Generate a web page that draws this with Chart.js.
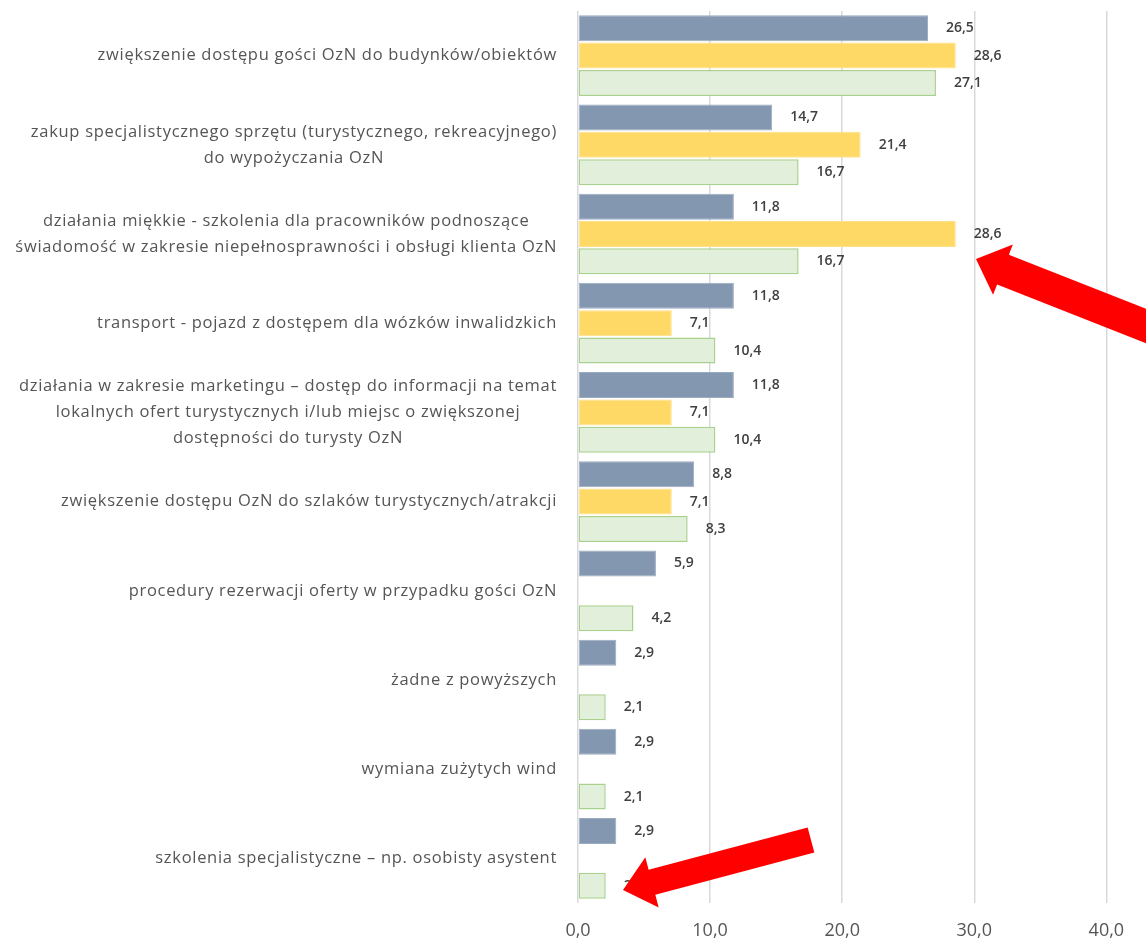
<!DOCTYPE html>
<html>
<head>
<meta charset="utf-8">
<script src="https://cdn.jsdelivr.net/npm/chart.js@4"></script>
<style>
  body { margin: 0; background: #fff; }
  #wrap { width: 1146px; height: 941px; }
</style>
</head>
<body>
<div id="wrap"><canvas id="barChart" width="1146" height="941"></canvas></div>
<script>
// Categories (multi-line labels as arrays)
const categories = [
    ["zwiększenie dostępu gości OzN do budynków/obiektów"],
    ["zakup specjalistycznego sprzętu (turystycznego, rekreacyjnego)", "do wypożyczania OzN"],
    ["działania miękkie - szkolenia dla pracowników podnoszące", "świadomość w zakresie niepełnosprawności i obsługi klienta OzN"],
    ["transport - pojazd z dostępem dla wózków inwalidzkich"],
    ["działania w zakresie marketingu – dostęp do informacji na temat", "lokalnych ofert turystycznych i/lub miejsc o zwiększonej", "dostępności do turysty OzN"],
    ["zwiększenie dostępu OzN do szlaków turystycznych/atrakcji"],
    ["procedury rezerwacji oferty w przypadku gości OzN"],
    ["żadne z powyższych"],
    ["wymiana zużytych wind"],
    ["szkolenia specjalistyczne – np. osobisty asystent"]
];

// Series values
const seriesBlue   = [26.5, 14.7, 11.8, 11.8, 11.8, 8.8, 5.9, 2.9, 2.9, 2.9];
const seriesYellow = [28.6, 21.4, 28.6, 7.1, 7.1, 7.1, null, null, null, null];
const seriesGreen  = [27.1, 16.7, 16.7, 10.4, 10.4, 8.3, 4.2, 2.1, 2.1, 2.1];

// X axis ticks
const xTicks = [0, 10, 20, 30, 40];

// Red arrows drawn over the chart (annotation, pixel positions)
const arrows = [
    { tip: [976, 259], tail: [1260, 371], shaftW: 32, headW: 54, headL: 29 },
    { tip: [623, 890], tail: [811, 840], shaftW: 26, headW: 52, headL: 30 }
];

const fmt = v => v.toFixed(1).replace('.', ',');

// Category labels: right-aligned block, lines centered in it
const categoryLabels = {
    id: 'categoryLabels',
    afterDraw(chart) {
        const ctx = chart.ctx;
        const yScale = chart.scales.y;
        const right = chart.chartArea.left - 21;
        const lineH = 26;
        ctx.save();
        ctx.font = "16.5px 'Open Sans'";
        ctx.letterSpacing = '0.7px';
        ctx.fillStyle = '#555555';
        ctx.textAlign = 'center';
        ctx.textBaseline = 'middle';
        categories.forEach((lines, i) => {
            const y = yScale.getPixelForValue(i);
            const maxW = Math.max(...lines.map(l => ctx.measureText(l).width));
            const cx = right - maxW / 2;
            const top = y - (lines.length - 1) * lineH / 2;
            lines.forEach((l, j) => ctx.fillText(l, cx, top + j * lineH));
        });
        ctx.restore();
    }
};

// Value labels to the right of each bar
const valueLabels = {
    id: 'valueLabels',
    afterDatasetsDraw(chart) {
        const ctx = chart.ctx;
        ctx.save();
        ctx.font = "600 14px 'Open Sans'";
        ctx.fillStyle = '#404040';
        ctx.textAlign = 'left';
        ctx.textBaseline = 'middle';
        chart.data.datasets.forEach((ds, di) => {
            chart.getDatasetMeta(di).data.forEach((bar, i) => {
                const v = ds.data[i];
                if (v === null || v === undefined) return;
                ctx.fillText(fmt(v), bar.x + 18, bar.y);
            });
        });
        ctx.restore();
    }
};

// Red arrows
const redArrows = {
    id: 'redArrows',
    afterDraw(chart) {
        const ctx = chart.ctx;
        ctx.save();
        ctx.fillStyle = '#ff0000';
        arrows.forEach(a => {
            const [tx, ty] = a.tip;
            const [bx, by] = a.tail;
            const len = Math.hypot(bx - tx, by - ty);
            const dx = (bx - tx) / len, dy = (by - ty) / len;
            const px = -dy, py = dx;
            const hx = tx + dx * a.headL, hy = ty + dy * a.headL;
            ctx.beginPath();
            ctx.moveTo(tx, ty);
            ctx.lineTo(hx + px * a.headW / 2, hy + py * a.headW / 2);
            ctx.lineTo(hx + px * a.shaftW / 2, hy + py * a.shaftW / 2);
            ctx.lineTo(bx + px * a.shaftW / 2, by + py * a.shaftW / 2);
            ctx.lineTo(bx - px * a.shaftW / 2, by - py * a.shaftW / 2);
            ctx.lineTo(hx - px * a.shaftW / 2, hy - py * a.shaftW / 2);
            ctx.lineTo(hx - px * a.headW / 2, hy - py * a.headW / 2);
            ctx.closePath();
            ctx.fill();
        });
        ctx.restore();
    }
};

const ctx = document.getElementById("barChart").getContext("2d");
const barChart = new Chart(ctx, {
    type: 'bar',
    data: {
        labels: categories.map(c => c.join(' ')),
        datasets: [
            {
                label: 'A',
                data: seriesBlue,
                backgroundColor: '#8497b0',
                borderColor: '#9aabc0',
                borderWidth: 1,
                borderSkipped: false
            },
            {
                label: 'B',
                data: seriesYellow,
                backgroundColor: '#ffd966',
                borderColor: '#ffe08a',
                borderWidth: 1,
                borderSkipped: false
            },
            {
                label: 'C',
                data: seriesGreen,
                backgroundColor: '#e2efda',
                borderColor: '#a9d18e',
                borderWidth: 1.5,
                borderSkipped: false
            }
        ]
    },
    options: {
        indexAxis: 'y',
        responsive: false,
        animation: false,
        devicePixelRatio: 1,
        categoryPercentage: 0.92,
        barPercentage: 0.95,
        layout: { padding: { left: 578, right: 0, top: 11, bottom: 0 } },
        plugins: {
            legend: { display: false },
            tooltip: { enabled: false }
        },
        scales: {
            y: {
                display: false
            },
            x: {
                min: 0,
                max: 43,
                afterBuildTicks: scale => {
                    scale.ticks = xTicks.map(v => ({ value: v }));
                },
                afterFit: scale => {
                    scale.height = 38;
                },
                grid: { color: '#d9d9d9', lineWidth: 1.5, drawTicks: false },
                border: { display: false },
                ticks: {
                    padding: 17,
                    color: '#555555',
                    font: { family: 'Open Sans', size: 18 },
                    callback: v => fmt(v)
                }
            }
        }
    },
    plugins: [categoryLabels, valueLabels, redArrows]
});
</script>
</body>
</html>
